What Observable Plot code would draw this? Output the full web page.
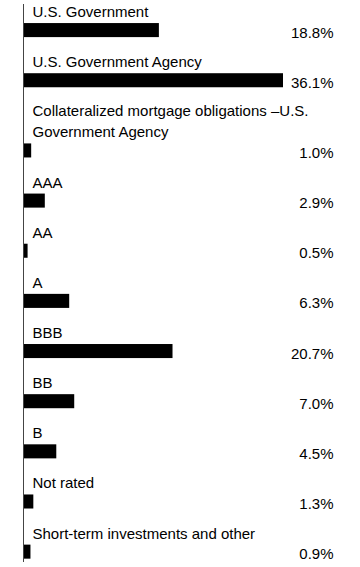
<!DOCTYPE html>
<html>
<head>
<meta charset="utf-8">
<script src="https://cdn.jsdelivr.net/npm/d3@7"></script>
<script src="https://cdn.jsdelivr.net/npm/@observablehq/plot@0.6"></script>
<style>
  html, body { margin: 0; padding: 0; background: #fff; }
  #chart svg { display: block; }
</style>
</head>
<body>
<div id="chart"></div>
<script>
const categories = [
  "U.S. Government",
  "U.S. Government Agency",
  "Collateralized mortgage obligations –U.S.\nGovernment Agency",
  "AAA",
  "AA",
  "A",
  "BBB",
  "BB",
  "B",
  "Not rated",
  "Short-term investments and other"
];
const values = [18.8, 36.1, 1.0, 2.9, 0.5, 6.3, 20.7, 7.0, 4.5, 1.3, 0.9];
const valueLabels = ["18.8%", "36.1%", "1.0%", "2.9%", "0.5%", "6.3%", "20.7%", "7.0%", "4.5%", "1.3%", "0.9%"];

// Row layout in "units": each label line takes 2 units, bar + gap takes 3 units.
let start = 0;
const rows = categories.map((c, i) => {
  const lines = c.split("\n").length;
  const barTop = start + 2 * lines;
  const row = {category: c, value: values[i], label: valueLabels[i], barTop, barBottom: barTop + 1.4, labelY: barTop - 0.65};
  start += 2 * lines + 3;
  return row;
});
const totalUnits = start;
const unitPx = 10.03;

const chart = Plot.plot({
  width: 360,
  height: 567,
  marginLeft: 24,
  marginRight: 27,
  marginTop: 4,
  marginBottom: 5,
  x: {domain: [0, d3.max(values)], range: [24, 283], axis: null},
  y: {domain: [0, totalUnits], range: [3, 3 + totalUnits * unitPx], axis: null},
  style: {fontFamily: "'Liberation Sans', Arial, sans-serif", fontSize: "15px", color: "#000", background: "#fff"},
  marks: [
    Plot.rectX(rows, {x1: 0, x2: "value", y1: "barTop", y2: "barBottom", fill: "#000", insetLeft: 0}),
    Plot.text(rows, {x: 0, y: "labelY", text: "category", textAnchor: "start", lineAnchor: "bottom", dx: 8, lineHeight: 1.4, fill: "#000", fontSize: 15}),
    Plot.text(rows, {frameAnchor: "right", y: "barBottom", text: "label", textAnchor: "end", lineAnchor: "bottom", fill: "#000", fontSize: 15}),
    Plot.ruleX([0], {stroke: "#444", strokeWidth: 1, dx: -1})
  ]
});
document.getElementById("chart").appendChild(chart);
</script>
</body>
</html>
